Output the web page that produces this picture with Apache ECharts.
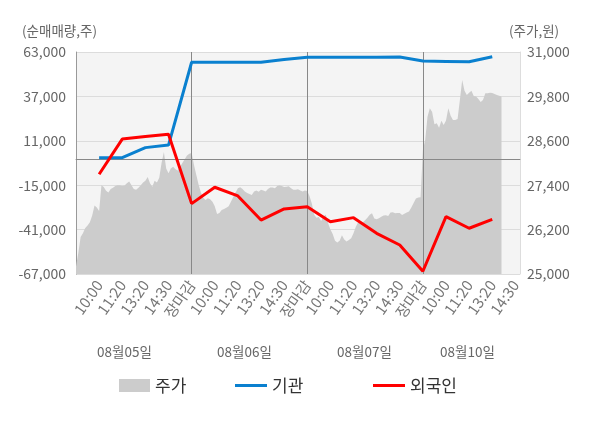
<!DOCTYPE html>
<html>
<head>
<meta charset="utf-8">
<script src="https://cdn.jsdelivr.net/npm/echarts@6/dist/echarts.min.js"></script>
<style>
  html, body { margin: 0; padding: 0; background: #fff; }
  #main { width: 600px; height: 428px; }
</style>
</head>
<body>
<div id="main"></div>
<script>
// 일자 / 시간 라벨
var days = ['08월05일', '08월06일', '08월07일', '08월10일'];
var slotTimes = ['10:00', '11:20', '13:20', '14:30', '장마감'];
var leftTicks = [-67000, -41000, -15000, 11000, 37000, 63000];
var rightTicks = [25000, 26200, 27400, 28600, 29800, 31000];

// 주가 (일자별 장중 흐름)
var price0805 = [25200, 25570, 26000, 26100, 26240, 26310, 26400, 26580, 26850, 26800,
  26700, 27400, 27350, 27250, 27200, 27300, 27330, 27380, 27400, 27400,
  27380, 27390, 27450, 27500, 27400, 27300, 27280, 27330, 27400, 27470,
  27520, 27620, 27450, 27360, 27520, 27470, 27600, 28000, 28300, 27850,
  27720, 27850, 27900, 27830, 27800, 27900, 28000, 28100, 28200, 28250];
var price0806 = [28270, 27950, 27680, 27420, 27200, 27060, 27000, 27050, 27020, 26950,
  26830, 26620, 26650, 26730, 26760, 26790, 26830, 26950, 27080, 27200,
  27320, 27342, 27300, 27230, 27190, 27160, 27135, 27230, 27260, 27225,
  27280, 27260, 27230, 27300, 27340, 27340, 27315, 27380, 27400, 27378,
  27350, 27360, 27370, 27320, 27280, 27280, 27290, 27260, 27230, 27260];
var price0807 = [27240, 27100, 26900, 26600, 26520, 26540, 26430, 26560, 26600, 26380,
  26200, 26080, 25900, 25850, 25900, 26050, 25930, 25880, 25920, 25965,
  26100, 26280, 26400, 26380, 26390, 26450, 26520, 26600, 26640, 26500,
  26480, 26510, 26550, 26580, 26590, 26570, 26660, 26670, 26640, 26650,
  26650, 26595, 26630, 26660, 26690, 26800, 26920, 27040, 27070, 27072];
var price0810 = [28350, 28620, 29250, 29478, 29380, 29050, 29072, 28950, 29140, 29030,
  29150, 29478, 29280, 29162, 29162, 29190, 29700, 30244, 29950, 29838,
  29900, 29950, 29811, 29800, 29730, 29650, 29700, 29883, 29883, 29900,
  29890, 29865, 29840, 29820, 29800];

// 순매매량 (시간 라벨마다)
var institution = [1100, 1100, 7000, 8500, 57000,
  57000, 57000, 57000, 58600, 59900,
  59900, 59900, 59900, 60100, 57700,
  57500, 57300, 60200];
var foreign = [-8600, 12000, 13500, 14800, -25800,
  -16200, -21300, -35400, -28900, -27600,
  -36400, -34000, -43200, -50000, -65400,
  -33400, -40200, -35000];

var perSlot = 10;
var perDay = perSlot * slotTimes.length;
var total = perDay * 3 + perSlot * 4 + 3;

function timeLabel(i) {
  if (i > 0 && i % perSlot === 0) {
    return slotTimes[(i / perSlot - 1) % slotTimes.length];
  }
  return '';
}

var categories = [];
for (var i = 0; i < total; i++) {
  var d = Math.min(Math.floor(i / perDay), days.length - 1);
  categories.push(days[d] + ' ' + (timeLabel(i) || ('#' + i)));
}

var prices = price0805.concat(price0806, price0807, price0810);
var instData = institution.map(function (v, k) { return [(k + 1) * perSlot, v]; });
var foreignData = foreign.map(function (v, k) { return [(k + 1) * perSlot, v]; });

var font = 'Noto Sans CJK KR';

var dateTexts = days.map(function (t, k) {
  var xs = [125, 245, 365, 468];
  return {
    type: 'text', left: xs[k] - 28, top: 345,
    style: { text: t, fill: '#666', font: '13.5px "' + font + '"' }
  };
});

var myChart = echarts.init(document.getElementById('main'));
myChart.setOption({
  animation: false,
  textStyle: { fontFamily: font },
  grid: {
    left: 76, right: 80, top: 52, bottom: 154,
    show: true, backgroundColor: '#f4f4f4', borderWidth: 0
  },
  legend: [
    { data: ['주가'], left: 114, top: 372, icon: 'rect', itemWidth: 31, itemHeight: 13, itemGap: 8,
      textStyle: { fontSize: 17, color: '#333', fontFamily: font } },
    { data: ['기관'], left: 230, top: 372, icon: 'rect', itemWidth: 32, itemHeight: 3,
      textStyle: { fontSize: 17, color: '#333', fontFamily: font } },
    { data: ['외국인'], left: 368, top: 372, icon: 'rect', itemWidth: 32, itemHeight: 3,
      textStyle: { fontSize: 17, color: '#333', fontFamily: font } }
  ],
  graphic: [
    { type: 'text', left: 22, top: 24, style: { text: '(순매매량,주)', fill: '#666', font: '13.5px "' + font + '"' } },
    { type: 'text', left: 509, top: 24, style: { text: '(주가,원)', fill: '#666', font: '13.5px "' + font + '"' } }
  ].concat(dateTexts),
  xAxis: {
    type: 'category',
    data: categories,
    boundaryGap: false,
    axisLine: { lineStyle: { color: '#999' } },
    axisTick: {
      show: true, length: 4, lineStyle: { color: '#999' },
      interval: function (idx) { return idx % perDay === 0; }
    },
    splitLine: { show: false },
    axisLabel: {
      rotate: 55, margin: 8, fontSize: 15, fontFamily: font,
      interval: function (idx) { return timeLabel(idx) !== ''; },
      formatter: function (v, idx) { return timeLabel(idx); },
      color: function (v, idx) {
        var t = timeLabel(idx);
        if (t === '장마감') return '#ff0000';
        if (idx === perDay * 3 + perSlot) return '#333';
        return '#777';
      }
    }
  },
  yAxis: [
    {
      type: 'value', min: leftTicks[0], max: leftTicks[leftTicks.length - 1],
      interval: leftTicks[1] - leftTicks[0],
      axisLine: { show: true, lineStyle: { color: '#999' } },
      axisTick: { show: false },
      splitLine: { show: true, lineStyle: { color: '#dcdcdc' } },
      axisLabel: {
        fontSize: 14, color: '#666', margin: 10, fontFamily: font,
        formatter: function (v) { return v.toLocaleString('en-US'); }
      }
    },
    {
      type: 'value', min: rightTicks[0], max: rightTicks[rightTicks.length - 1],
      interval: rightTicks[1] - rightTicks[0],
      position: 'right',
      axisLine: { show: true, lineStyle: { color: '#ddd' } },
      axisTick: { show: false },
      splitLine: { show: false },
      axisLabel: {
        fontSize: 14, color: '#666', margin: 7, fontFamily: font,
        formatter: function (v) { return v.toLocaleString('en-US'); }
      }
    }
  ],
  series: [
    {
      name: '주가', type: 'line', yAxisIndex: 1, data: prices,
      color: '#cccccc', symbol: 'none', z: 1,
      lineStyle: { width: 0 },
      areaStyle: { color: '#cccccc', opacity: 1, origin: 'start' },
      markLine: {
        silent: true, symbol: 'none', z: 2,
        label: { show: false },
        lineStyle: { color: '#888', width: 1, type: 'solid' },
        data: [
          { xAxis: perDay }, { xAxis: perDay * 2 }, { xAxis: perDay * 3 }
        ]
      }
    },
    {
      name: '기관', type: 'line', yAxisIndex: 0, data: instData,
      color: '#0a80cf', symbol: 'none', z: 5,
      lineStyle: { width: 3, color: '#0a80cf' },
      markLine: {
        silent: true, symbol: 'none', z: 2,
        label: { show: false },
        lineStyle: { color: '#888', width: 1, type: 'solid' },
        data: [{ yAxis: 0 }]
      }
    },
    {
      name: '외국인', type: 'line', yAxisIndex: 0, data: foreignData,
      color: '#ff0000', symbol: 'none', z: 6,
      lineStyle: { width: 3, color: '#ff0000' }
    }
  ]
});
</script>
</body>
</html>
